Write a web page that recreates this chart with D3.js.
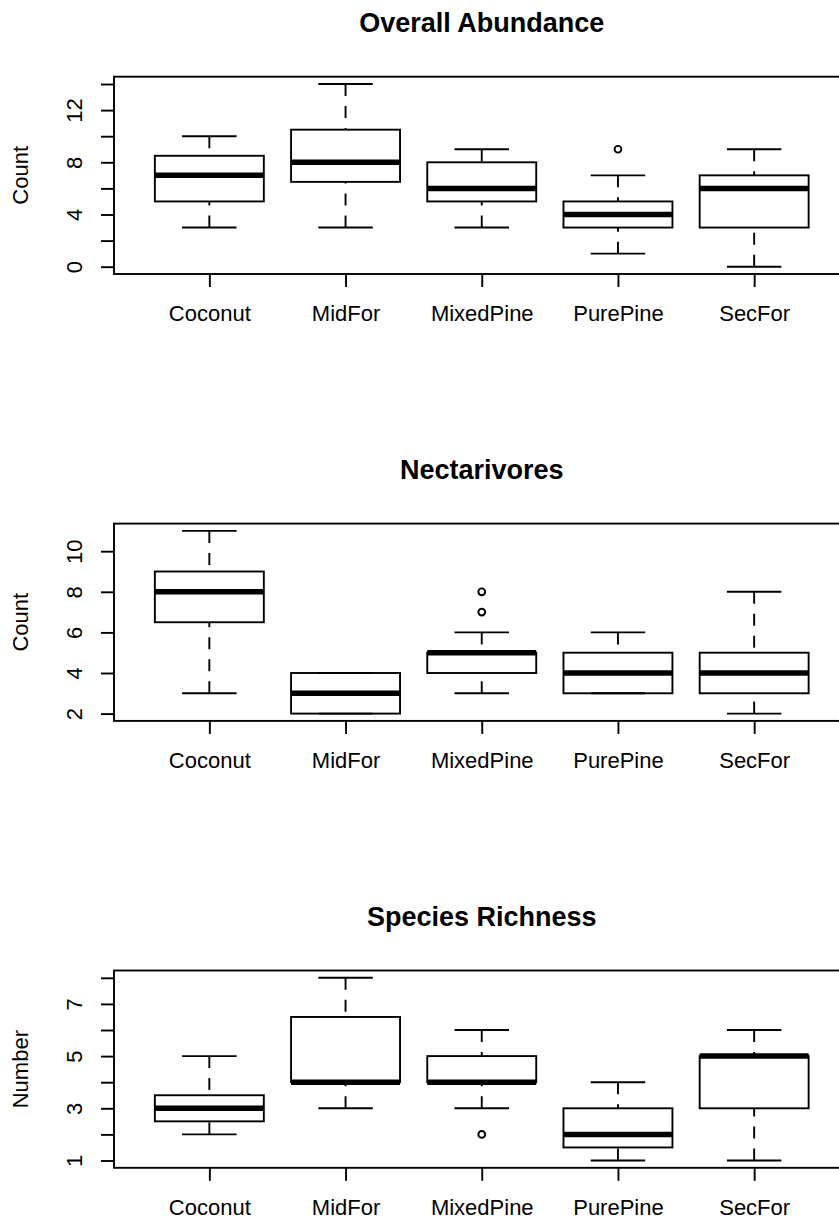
<!DOCTYPE html>
<html lang="en">
<head>
<meta charset="UTF-8">
<script src="https://cdnjs.cloudflare.com/ajax/libs/d3/7.8.5/d3.min.js"></script>
<title>Boxplots</title>
<style>
  body { margin: 0; background: #fff; }
  text { font-family: "Liberation Sans", Arial, Helvetica, sans-serif; fill: #000; }
</style>
</head>
<body>
<div id="chart"></div>
<script>
    var sites = ["Coconut", "MidFor", "MixedPine", "PurePine", "SecFor"];

    // each site: [lower whisker, Q1, median, Q3, upper whisker]
    var abundanceStats = [[3, 5, 7, 8.5, 10], [3, 6.5, 8, 10.5, 14], [3, 5, 6, 8, 9], [1, 3, 4, 5, 7], [0, 3, 6, 7, 9]];
    var abundanceOutliers = [[], [], [], [9], []];
    var abundanceTicks = [0, 2, 4, 6, 8, 10, 12, 14];
    var abundanceLabels = [0, 4, 8, 12];

    var nectarStats = [[3, 6.5, 8, 9, 11], [2, 2, 3, 4, 4], [3, 4, 5, 5, 6], [3, 3, 4, 5, 6], [2, 3, 4, 5, 8]];
    var nectarOutliers = [[], [], [7, 8], [], []];
    var nectarTicks = [2, 4, 6, 8, 10];
    var nectarLabels = [2, 4, 6, 8, 10];

    var richnessStats = [[2, 2.5, 3, 3.5, 5], [3, 4, 4, 6.5, 8], [3, 4, 4, 5, 6], [1, 1.5, 2, 3, 4], [1, 3, 5, 5, 6]];
    var richnessOutliers = [[], [], [2], [], []];
    var richnessTicks = [1, 2, 3, 4, 5, 6, 7, 8];
    var richnessLabels = [1, 3, 5, 7];

    var panels = [
        {title: "Overall Abundance", ylab: "Count", stats: abundanceStats, out: abundanceOutliers, ticks: abundanceTicks, labels: abundanceLabels},
        {title: "Nectarivores", ylab: "Count", stats: nectarStats, out: nectarOutliers, ticks: nectarTicks, labels: nectarLabels},
        {title: "Species Richness", ylab: "Number", stats: richnessStats, out: richnessOutliers, ticks: richnessTicks, labels: richnessLabels}
    ];

    var width = 839, height = 1220;
    var left = 114, right = 849.5;
    var firstTop = 76.7, panelStep = 446.9, plotH = 197.3;
    var lw = 1.9, tickLen = 13;

    var svg = d3.select("#chart").append("svg")
                .attr("width", width)
                .attr("height", height);

    // R puts the boxes at 1..n with 4% padding around 0.5..n+0.5
    var x = d3.scaleLinear().domain([0.3, sites.length + 0.7]).range([left, right]);
    var halfBox = (x(1.4) - x(1)), halfStaple = halfBox / 2;

    panels.forEach(function(p, i) {
        var top = firstTop + i * panelStep;
        var bottom = top + plotH;

        var all = d3.merge(p.stats.concat(p.out));
        var lo = d3.min(all), hi = d3.max(all), pad = (hi - lo) * 0.04;
        var y = d3.scaleLinear().domain([lo - pad, hi + pad]).range([bottom, top]);

        var g = svg.append("g");

        var box = g.selectAll(".box")
                    .data(p.stats)
                    .enter().append("g")
                    .attr("class", "box")
                    .attr("transform", function(d, j) { return "translate(" + x(j + 1) + ",0)"; });

        // dashed whiskers, drawn from the whisker end toward the box
        box.append("line")
            .attr("x1", 0).attr("x2", 0)
            .attr("y1", function(d) { return y(d[4]); })
            .attr("y2", function(d) { return y(d[3]); })
            .attr("stroke", "#000").attr("stroke-width", lw)
            .attr("stroke-dasharray", "12,10");
        box.append("line")
            .attr("x1", 0).attr("x2", 0)
            .attr("y1", function(d) { return y(d[0]); })
            .attr("y2", function(d) { return y(d[1]); })
            .attr("stroke", "#000").attr("stroke-width", lw)
            .attr("stroke-dasharray", "12,10");

        // staples
        [0, 4].forEach(function(k) {
            box.append("line")
                .attr("x1", -halfStaple).attr("x2", halfStaple)
                .attr("y1", function(d) { return y(d[k]); })
                .attr("y2", function(d) { return y(d[k]); })
                .attr("stroke", "#000").attr("stroke-width", lw);
        });

        box.append("rect")
            .attr("x", -halfBox)
            .attr("width", halfBox * 2)
            .attr("y", function(d) { return y(d[3]); })
            .attr("height", function(d) { return y(d[1]) - y(d[3]); })
            .attr("fill", "none")
            .attr("stroke", "#000").attr("stroke-width", lw);

        box.append("line")
            .attr("x1", -halfBox).attr("x2", halfBox)
            .attr("y1", function(d) { return y(d[2]); })
            .attr("y2", function(d) { return y(d[2]); })
            .attr("stroke", "#000").attr("stroke-width", 5.5);

        // outliers
        p.out.forEach(function(vals, j) {
            g.selectAll(null)
                .data(vals)
                .enter().append("circle")
                .attr("cx", x(j + 1))
                .attr("cy", function(v) { return y(v); })
                .attr("r", 3.4)
                .attr("fill", "none")
                .attr("stroke", "#000").attr("stroke-width", lw);
        });

        // frame
        g.append("rect")
            .attr("x", left).attr("y", top)
            .attr("width", right - left).attr("height", plotH)
            .attr("fill", "none")
            .attr("stroke", "#000").attr("stroke-width", lw);

        var xAxis = g.append("g")
                    .attr("transform", "translate(0," + bottom + ")")
                    .call(d3.axisBottom(x)
                        .tickValues(d3.range(1, sites.length + 1))
                        .tickSize(tickLen)
                        .tickFormat(function(v) { return sites[v - 1]; }));
        xAxis.select(".domain").remove();
        xAxis.selectAll("line").attr("stroke-width", lw);
        xAxis.selectAll("text")
            .attr("y", 47).attr("dy", null)
            .style("font-size", "22px");

        var yAxis = g.append("g")
                    .attr("transform", "translate(" + left + ",0)")
                    .call(d3.axisLeft(y)
                        .tickValues(p.ticks)
                        .tickSize(tickLen)
                        .tickFormat(function(v) { return p.labels.indexOf(v) >= 0 ? v : ""; }));
        yAxis.select(".domain").remove();
        yAxis.selectAll("line").attr("stroke-width", lw);
        yAxis.selectAll("text")
            .attr("x", null).attr("dy", null)
            .attr("y", -32)
            .attr("transform", "rotate(-90)")
            .attr("text-anchor", "middle")
            .style("font-size", "22px");

        g.append("text")
            .attr("transform", "translate(27.5," + (top + bottom) / 2 + ") rotate(-90)")
            .attr("text-anchor", "middle")
            .style("font-size", "22px")
            .text(p.ylab);

        g.append("text")
            .attr("x", (left + right) / 2)
            .attr("y", top - 45)
            .attr("text-anchor", "middle")
            .style("font-size", "27px")
            .style("font-weight", "bold")
            .text(p.title);
    });
</script>
</body>
</html>
